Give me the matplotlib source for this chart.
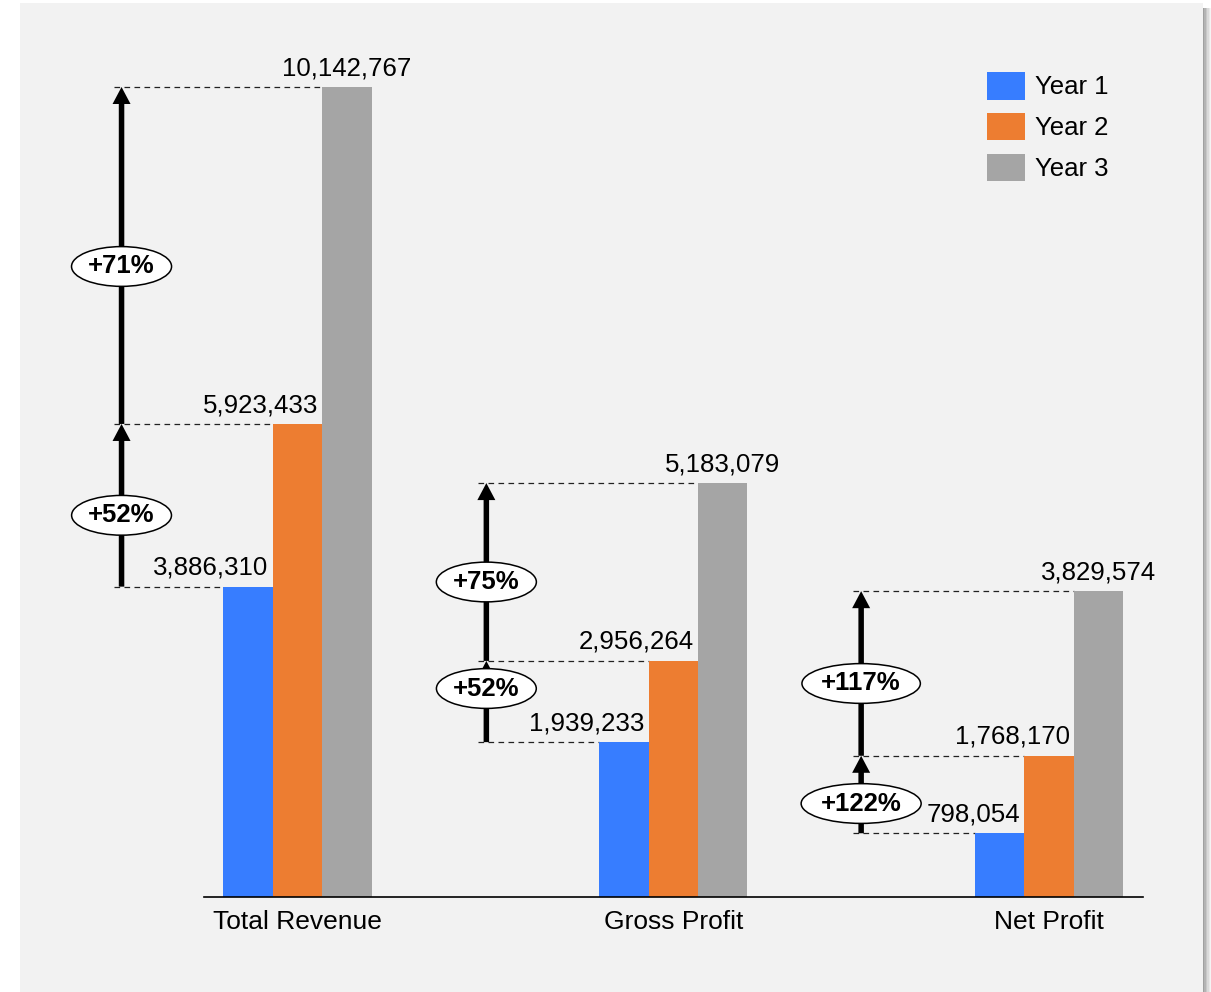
import matplotlib
matplotlib.use('Agg')
import matplotlib.pyplot as plt
from matplotlib.patches import Rectangle, FancyArrowPatch, ArrowStyle
import numpy as np

# ---------------- data ----------------
categories = ['Total Revenue', 'Gross Profit', 'Net Profit']
series_names = ['Year 1', 'Year 2', 'Year 3']
year1 = [3886310, 1939233, 798054]
year2 = [5923433, 2956264, 1768170]
year3 = [10142767, 5183079, 3829574]

# ---------------- style ----------------
colors = ['#377dff', '#ed7d31', '#a5a5a5']
panel_color = '#f2f2f2'
FONT = 'Liberation Sans'
W, H, DPI = 1211, 992, 100
GROUP_PX = 376.0              # pixel distance between groups
arrow_dx_px = [-176, -187, -188]       # arrow x relative to group centre
ellipse_dy_px = [[10, 11], [-13, 10], [9, 10]]  # label shift below midpoint

plt.rcParams['font.family'] = [FONT, 'DejaVu Sans']

fig = plt.figure(figsize=(W / DPI, H / DPI), dpi=DPI)
fig.patch.set_facecolor('white')

# background panel with a soft right shadow
fig.patches.append(Rectangle((20 / W, 0), (1203 - 20) / W, (992 - 3) / H,
                             transform=fig.transFigure, facecolor=panel_color,
                             edgecolor='none', zorder=-10))
for i, c in enumerate(['#a0a0a0', '#b4b4b4', '#c8c8c8', '#dadada', '#e8e8e8', '#f4f4f4']):
    fig.patches.append(Rectangle(((1203 + i * 1.4) / W, 0), 1.4 / W, (992 - 8) / H,
                                 transform=fig.transFigure, facecolor=c,
                                 edgecolor='none', zorder=-10))

ax = fig.add_axes([204 / W, 1 - 897 / H, (1143 - 204) / W, (897 - 87) / H])
ax.set_zorder(5)
ax.set_facecolor('none')
ax.set_xlim(-93.5 / GROUP_PX, 2 + 94 / GROUP_PX)
ax.set_ylim(0, max(year3))

x = np.arange(len(categories))
bw = 49.5 / GROUP_PX
series = [year1, year2, year3]
for i, (vals, name) in enumerate(zip(series, series_names)):
    ax.bar(x + (i - 1) * bw, vals, width=bw, color=colors[i], label=name,
           zorder=2, linewidth=0)

# value labels
for i, vals in enumerate(series):
    for j, v in enumerate(vals):
        bx = x[j] + (i - 1) * bw
        if i < 2:
            ax.annotate(f'{v:,}', xy=(bx + bw / 2, v), xytext=(-3, 8.6),
                        textcoords='offset points', ha='right', va='baseline',
                        fontsize=18.6, color='black', zorder=5, annotation_clip=False)
        else:
            ax.annotate(f'{v:,}', xy=(bx, v), xytext=(0, 8.6),
                        textcoords='offset points', ha='center', va='baseline',
                        fontsize=18.6, color='black', zorder=5, annotation_clip=False)

# growth arrows, dashed guides and ellipse labels
pt = 72.0 / DPI
for j in range(len(categories)):
    ax_x = x[j] + arrow_dx_px[j] / GROUP_PX
    levels = [year1[j], year2[j], year3[j]]
    for i, lv in enumerate(levels):
        left = x[j] + (i - 1) * bw - bw / 2
        ax.plot([ax_x - 8 / GROUP_PX, left], [lv, lv], color='#222222', lw=0.9,
                dashes=(4.5, 3.5), zorder=1, clip_on=False)
    for k in range(2):
        y0, y1 = levels[k], levels[k + 1]
        arr = FancyArrowPatch((ax_x, y0), (ax_x, y1),
                              arrowstyle=ArrowStyle.Simple(head_length=17 * pt,
                                                           head_width=18 * pt,
                                                           tail_width=5.5 * pt),
                              mutation_scale=1, shrinkA=0, shrinkB=0,
                              facecolor='black', edgecolor='none', zorder=3,
                              clip_on=False)
        ax.add_patch(arr)
        pct = (y1 / y0 - 1) * 100
        ax.annotate(f'+{pct:.0f}%', xy=(ax_x, (y0 + y1) / 2),
                    xytext=(0, -ellipse_dy_px[j][k] * pt), textcoords='offset points',
                    ha='center', va='center', fontsize=18.5, fontweight='bold',
                    zorder=6, annotation_clip=False,
                    bbox=dict(boxstyle='ellipse,pad=0.08', facecolor='white',
                              edgecolor='black', linewidth=1.1))

# axes styling
for s in ['top', 'right', 'left']:
    ax.spines[s].set_visible(False)
ax.spines['bottom'].set_linewidth(1.2)
ax.spines['bottom'].set_color('black')
ax.spines['bottom'].set_zorder(4)
ax.set_yticks([])
ax.set_xticks(x)
ax.set_xticklabels(categories, fontsize=19)
ax.tick_params(axis='x', length=0, pad=9.5)

ax.legend(loc='upper left', bbox_to_anchor=(987 / W, 1 - 72 / H),
          bbox_transform=fig.transFigure, frameon=False, fontsize=18.5,
          handlelength=1.48, handleheight=1.27, labelspacing=0.52,
          handletextpad=0.4, borderpad=0, borderaxespad=0)

fig.savefig('out.png', dpi=DPI, facecolor=fig.get_facecolor())
